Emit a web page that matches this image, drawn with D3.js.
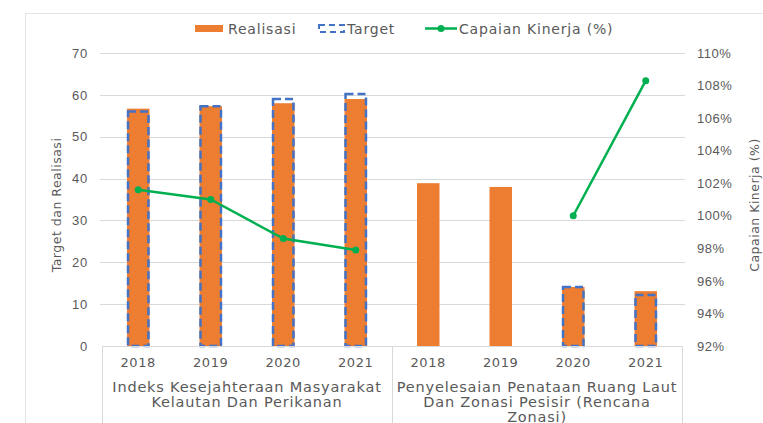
<!DOCTYPE html>
<html>
<head>
<meta charset="utf-8">
<script src="https://cdn.jsdelivr.net/npm/d3@7"></script>
<style>
  body { margin: 0; background: #fff; }
  svg { display: block; font-family: "DejaVu Sans", sans-serif; }
</style>
</head>
<body>
<svg id="chart" width="763" height="423"></svg>
<script>
// data
var groups = [
    ["Indeks Kesejahteraan Masyarakat", "Kelautan Dan Perikanan"],
    ["Penyelesaian Penataan Ruang Laut", "Dan Zonasi Pesisir (Rencana", "Zonasi)"]
];
var years = ["2018", "2019", "2020", "2021"];
var realisasi = [56.7, 57.3, 58.0, 59.0, 38.9, 38.0, 14.1, 13.1];
var target = [56.0, 57.3, 59.0, 60.2, null, null, 14.1, 12.2];
var capaian = [101.6, 101.0, 98.6, 97.9, null, null, 100.0, 108.3];
var leftTicks = [0, 10, 20, 30, 40, 50, 60, 70];
var rightTicks = [92, 94, 96, 98, 100, 102, 104, 106, 108, 110];

var textColor = "#595959",
    gridColor = "#d9d9d9",
    orange = "#ED7D31",
    blue = "#4472C4",
    green = "#00B050";

var svg = d3.select("#chart");

// chart frame
svg.append("rect")
    .attr("x", 25.5).attr("y", 13.5)
    .attr("width", 760).attr("height", 420)
    .attr("fill", "none")
    .attr("stroke", "#e4e4e4");

var plotLeft = 102, plotRight = 682, plotTop = 53, plotBottom = 346;

// one slot per group/year pair
var slots = [];
groups.forEach(function (g, gi) {
    years.forEach(function (y) {
        slots.push({ key: gi + "-" + y, year: y, group: gi, i: slots.length });
    });
});

var x = d3.scaleBand().domain(slots.map(function (d) { return d.key; }))
    .range([plotLeft, plotRight]).paddingInner(0.69).paddingOuter(0.345);
var xBand = d3.scaleBand().domain(slots.map(function (d) { return d.key; }))
    .range([plotLeft, plotRight]);
var yL = d3.scaleLinear().domain([0, 70]).range([plotBottom, plotTop]);
var yR = d3.scaleLinear().domain([92, 110]).range([plotBottom, plotTop]);

// gridlines
svg.append("g").selectAll("line")
    .data(leftTicks.slice(1))
    .enter().append("line")
    .attr("x1", plotLeft - 2).attr("x2", plotRight + 3)
    .attr("y1", function (d) { return Math.round(yL(d)) + 0.5; })
    .attr("y2", function (d) { return Math.round(yL(d)) + 0.5; })
    .attr("stroke", gridColor);

// left axis
var axL = svg.append("g")
    .attr("transform", "translate(" + (plotLeft - 14) + ",0)")
    .call(d3.axisLeft(yL).tickValues(leftTicks).tickSize(0).tickPadding(0));
axL.select(".domain").remove();
axL.selectAll("text").attr("fill", textColor).attr("font-size", "13px")
    .attr("letter-spacing", "0.8px");

// right axis
var axR = svg.append("g")
    .attr("transform", "translate(" + 697 + ",0)")
    .call(d3.axisRight(yR).tickValues(rightTicks).tickSize(0).tickPadding(0)
        .tickFormat(function (d) { return d + "%"; }));
axR.select(".domain").remove();
axR.selectAll("text").attr("fill", textColor).attr("font-size", "13px")
    .attr("letter-spacing", "0.5px");

// axis titles
svg.append("text")
    .attr("transform", "translate(61,205) rotate(-90)")
    .attr("text-anchor", "middle")
    .attr("font-size", "12.5px")
    .attr("letter-spacing", "0.5px")
    .attr("fill", textColor)
    .text("Target dan Realisasi");

svg.append("text")
    .attr("transform", "translate(759,205) rotate(-90)")
    .attr("text-anchor", "middle")
    .attr("font-size", "12.5px")
    .attr("letter-spacing", "0.5px")
    .attr("fill", textColor)
    .text("Capaian Kinerja (%)");

// realisasi bars
svg.append("g").selectAll("rect")
    .data(slots)
    .enter().append("rect")
    .attr("x", function (d) { return x(d.key); })
    .attr("width", x.bandwidth())
    .attr("y", function (d) { return yL(realisasi[d.i]); })
    .attr("height", function (d) { return plotBottom - yL(realisasi[d.i]); })
    .attr("fill", orange);

// target bars (dashed outline)
svg.append("g").selectAll("rect")
    .data(slots.filter(function (d) { return target[d.i] != null; }))
    .enter().append("rect")
    .attr("x", function (d) { return x(d.key) + 1; })
    .attr("width", x.bandwidth() - 2)
    .attr("y", function (d) { return yL(target[d.i]); })
    .attr("height", function (d) { return plotBottom - yL(target[d.i]); })
    .attr("fill", "none")
    .attr("stroke", blue)
    .attr("stroke-width", 2.5)
    .attr("stroke-dasharray", "8,4");

// category axis box
var box = svg.append("g").attr("stroke", gridColor).attr("fill", "none");
box.append("line").attr("x1", plotLeft).attr("x2", plotRight)
    .attr("y1", plotBottom + 0.5).attr("y2", plotBottom + 0.5);
[0, 4, 8].forEach(function (k) {
    var xx = k < 8 ? xBand(slots[k].key) : plotRight;
    box.append("line").attr("x1", Math.round(xx) + 0.5).attr("x2", Math.round(xx) + 0.5)
        .attr("y1", plotBottom).attr("y2", 423);
});

// year labels
svg.append("g").selectAll("text")
    .data(slots)
    .enter().append("text")
    .attr("x", function (d) { return xBand(d.key) + xBand.bandwidth() / 2; })
    .attr("y", 367)
    .attr("text-anchor", "middle")
    .attr("font-size", "13px")
    .attr("letter-spacing", "0.6px")
    .attr("fill", textColor)
    .text(function (d) { return d.year; });

// group labels
groups.forEach(function (lines, gi) {
    var cx = (xBand(slots[gi * 4].key) + xBand(slots[gi * 4 + 3].key) + xBand.bandwidth()) / 2;
    var t = svg.append("text")
        .attr("text-anchor", "middle")
        .attr("font-size", "14.5px")
        .attr("letter-spacing", "0.8px")
        .attr("fill", textColor);
    lines.forEach(function (s, li) {
        t.append("tspan").attr("x", cx).attr("y", 392 + li * 15).text(s);
    });
});

// capaian line, broken at missing values
var line = d3.line()
    .defined(function (d) { return capaian[d.i] != null; })
    .x(function (d) { return xBand(d.key) + xBand.bandwidth() / 2; })
    .y(function (d) { return yR(capaian[d.i]); });

svg.append("path")
    .datum(slots)
    .attr("d", line)
    .attr("fill", "none")
    .attr("stroke", green)
    .attr("stroke-width", 2.5);

svg.append("g").selectAll("circle")
    .data(slots.filter(function (d) { return capaian[d.i] != null; }))
    .enter().append("circle")
    .attr("cx", function (d) { return xBand(d.key) + xBand.bandwidth() / 2; })
    .attr("cy", function (d) { return yR(capaian[d.i]); })
    .attr("r", 3.5)
    .attr("fill", green);

// legend
var lg = svg.append("g").attr("font-size", "14px").attr("letter-spacing", "0.8px")
    .attr("fill", textColor);
lg.append("rect").attr("x", 195).attr("y", 25).attr("width", 28).attr("height", 7).attr("fill", orange);
lg.append("text").attr("x", 228).attr("y", 34).text("Realisasi");
lg.append("rect").attr("x", 319).attr("y", 25).attr("width", 25).attr("height", 7)
    .attr("fill", "none").attr("stroke", blue).attr("stroke-width", 2).attr("stroke-dasharray", "6,4");
lg.append("text").attr("x", 347).attr("y", 34).text("Target");
lg.append("line").attr("x1", 425).attr("x2", 457).attr("y1", 28.5).attr("y2", 28.5)
    .attr("stroke", green).attr("stroke-width", 2.5);
lg.append("circle").attr("cx", 441).attr("cy", 28.5).attr("r", 3.5).attr("fill", green);
lg.append("text").attr("x", 459).attr("y", 34).text("Capaian Kinerja (%)");
</script>
</body>
</html>
